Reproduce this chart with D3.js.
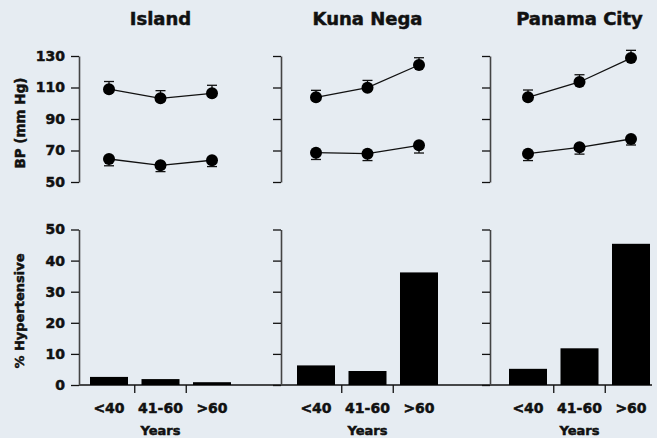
<!DOCTYPE html>
<html>
<head>
<meta charset="utf-8">
<script src="https://cdn.jsdelivr.net/npm/d3@7"></script>
<style>
  html, body { margin: 0; padding: 0; background: #e6ecf2; }
  svg { display: block; }
  text { font-family: "DejaVu Sans", sans-serif; font-weight: bold; fill: #111; stroke: #111; stroke-width: 0.5px; }
</style>
</head>
<body>
<div id="chart"></div>
<script>
const ages = ['<40', '41-60', '>60']
    , sites = ['Island', 'Kuna Nega', 'Panama City']
    ;

// mean BP (mm Hg) and standard error, one row per site
const systolic = [[108.9, 103.1, 106.3], [103.8, 109.9, 124.3], [103.8, 113.5, 128.7]]
    , systolicErr = [[4.9, 4.9, 5.1], [4.4, 4.6, 4.6], [4.6, 4.6, 4.9]]
    , diastolic = [[64.6, 60.6, 63.8], [68.6, 68.0, 73.3], [68.0, 72.0, 77.3]]
    , diastolicErr = [[4.3, 4.0, 4.0], [4.3, 4.4, 4.9], [4.4, 4.3, 3.8]]
    , hypertensive = [[2.6, 1.9, 0.9], [6.3, 4.5, 36.2], [5.2, 11.8, 45.4]]
    ;

const bpTicks = [50, 70, 90, 110, 130]
    , pctTicks = [0, 10, 20, 30, 40, 50]
    ;

const width = 657
    , height = 438
    , panels = [
        { axisX: 79, band: [90, 231] },
        { axisX: 281, band: [297, 438] },
        { axisX: 490, band: [509, 650] }
      ]
    ;

const yBP = d3.scaleLinear().domain([50, 130]).range([182, 56])
    , yPct = d3.scaleLinear().domain([0, 50]).range([385, 229.5])
    ;

const svg = d3.select('#chart')
  .append('svg')
    .attr('width', width)
    .attr('height', height);

// continuous baseline under all bar panels
svg.append('line')
    .attr('x1', panels[0].axisX).attr('x2', 652)
    .attr('y1', yPct(0)).attr('y2', yPct(0))
    .attr('stroke', '#111')
    .attr('stroke-width', 1.3);

function styleAxis(g) {
  g.select('.domain').attr('stroke', '#444').attr('stroke-width', 1.6);
  g.selectAll('.tick line').attr('stroke', '#111').attr('stroke-width', 1.3);
  g.selectAll('.tick text').attr('font-size', 14).attr('fill', '#111');
}

panels.forEach((p, i) => {
  const x = d3.scaleBand().domain(ages).range(p.band).paddingInner(0.262)
      , g = svg.append('g')
      , cx = d => x(d) + x.bandwidth() / 2
      ;

  g.append('text')
      .attr('x', cx('41-60'))
      .attr('y', 25)
      .attr('text-anchor', 'middle')
      .attr('font-size', 18)
      .attr('stroke-width', 0.7)
      .text(sites[i]);

  // top: BP
  const axBP = g.append('g')
      .attr('transform', `translate(${p.axisX},0)`)
      .call(d3.axisLeft(yBP).tickValues(bpTicks).tickSize(8).tickPadding(6).tickSizeOuter(0));
  styleAxis(axBP);
  if (i > 0) axBP.selectAll('.tick text').remove();

  [[systolic, systolicErr, -1], [diastolic, diastolicErr, 1]].forEach(([vals, errs, dir]) => {
    const pts = ages.map((a, j) => ({ a, v: vals[i][j], e: errs[i][j] }));

    g.append('path')
        .datum(pts)
        .attr('fill', 'none')
        .attr('stroke', '#111')
        .attr('stroke-width', 1.3)
        .attr('d', d3.line().x(d => cx(d.a)).y(d => yBP(d.v)));

    const eb = g.append('g')
        .attr('stroke', '#111')
        .attr('stroke-width', 1.3)
      .selectAll('g')
      .data(pts)
      .join('g');
    eb.append('line')
        .attr('x1', d => cx(d.a)).attr('x2', d => cx(d.a))
        .attr('y1', d => yBP(d.v))
        .attr('y2', d => yBP(d.v - dir * d.e));
    eb.append('line')
        .attr('x1', d => cx(d.a) - 5).attr('x2', d => cx(d.a) + 5)
        .attr('y1', d => yBP(d.v - dir * d.e))
        .attr('y2', d => yBP(d.v - dir * d.e));

    g.append('g')
      .selectAll('circle')
      .data(pts)
      .join('circle')
        .attr('cx', d => cx(d.a))
        .attr('cy', d => yBP(d.v))
        .attr('r', 6)
        .attr('fill', '#000');
  });

  // bottom: % hypertensive
  g.append('g')
    .selectAll('rect')
    .data(ages.map((a, j) => ({ a, v: hypertensive[i][j] })))
    .join('rect')
      .attr('x', d => x(d.a))
      .attr('width', x.bandwidth())
      .attr('y', d => yPct(d.v))
      .attr('height', d => yPct(0) - yPct(d.v))
      .attr('fill', '#000');

  const axPct = g.append('g')
      .attr('transform', `translate(${p.axisX},0)`)
      .call(d3.axisLeft(yPct).tickValues(pctTicks).tickSize(8).tickPadding(6).tickSizeOuter(0));
  styleAxis(axPct);
  if (i > 0) axPct.selectAll('.tick text').remove();

  // ticks between bars
  g.append('g')
    .selectAll('line')
    .data(ages.slice(1))
    .join('line')
      .attr('x1', d => x(d) - x.step() * x.paddingInner() / 2)
      .attr('x2', d => x(d) - x.step() * x.paddingInner() / 2)
      .attr('y1', yPct(0))
      .attr('y2', yPct(0) + 8)
      .attr('stroke', '#111')
      .attr('stroke-width', 1.3);

  g.append('g')
    .selectAll('text')
    .data(ages)
    .join('text')
      .attr('x', cx)
      .attr('y', 413)
      .attr('text-anchor', 'middle')
      .attr('font-size', 14)
      .text(d => d);

  g.append('text')
      .attr('x', cx('41-60'))
      .attr('y', 435)
      .attr('text-anchor', 'middle')
      .attr('font-size', 13)
      .text('Years');
});

svg.append('text')
    .attr('transform', 'translate(25,123) rotate(-90)')
    .attr('text-anchor', 'middle')
    .attr('font-size', 13.5)
    .text('BP (mm Hg)');

svg.append('text')
    .attr('transform', 'translate(24,311) rotate(-90)')
    .attr('text-anchor', 'middle')
    .attr('font-size', 13)
    .text('% Hypertensive');
</script>
</body>
</html>
